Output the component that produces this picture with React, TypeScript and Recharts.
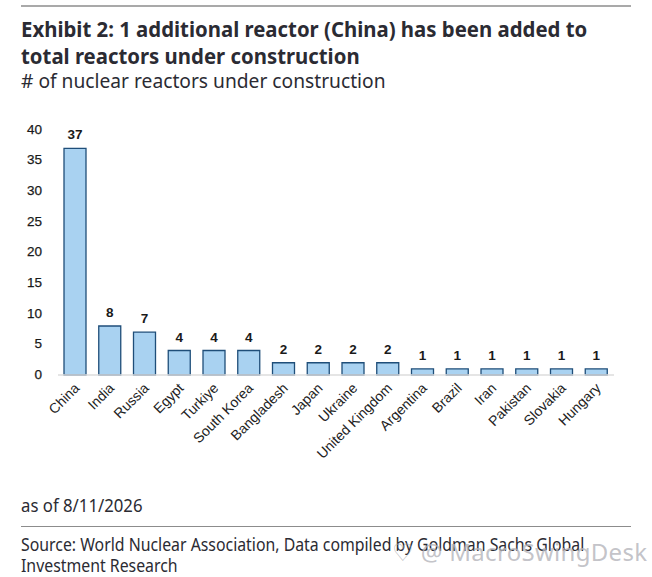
import React from 'react';
import { BarChart, Bar, XAxis, YAxis, LabelList } from 'recharts';

const countries = [
  'China', 'India', 'Russia', 'Egypt', 'Turkiye', 'South Korea', 'Bangladesh', 'Japan',
  'Ukraine', 'United Kingdom', 'Argentina', 'Brazil', 'Iran', 'Pakistan', 'Slovakia', 'Hungary',
];
const reactors = [37, 8, 7, 4, 4, 4, 2, 2, 2, 2, 1, 1, 1, 1, 1, 1];
const yTicks = [0, 5, 10, 15, 20, 25, 30, 35, 40];

const chartData = countries.map((country, i) => ({ country, reactors: reactors[i] }));

const textFont = '"Noto Sans", sans-serif';
const chartFont = '"Liberation Sans", Arial, sans-serif';

const CountryTick = ({ x, y, payload }: any) => (
  <text
    x={x + 5}
    y={y + 6}
    textAnchor="end"
    fontFamily={chartFont}
    fontSize={14}
    fill="#222"
    transform={`rotate(-45 ${x + 5} ${y + 6})`}
  >
    {payload.value}
  </text>
);

const line = (text: string, top: number, size: number, extra: React.CSSProperties = {}) => (
  <div
    style={{
      position: 'absolute',
      left: 21,
      top,
      fontFamily: textFont,
      fontSize: size,
      lineHeight: 1,
      color: '#2b2b33',
      whiteSpace: 'nowrap',
      transformOrigin: 'left top',
      ...extra,
    }}
  >
    {text}
  </div>
);

const rule = (top: number, height: number, color: string) => (
  <div style={{ position: 'absolute', left: 21, top, width: 610, height, background: color }} />
);

export default function App() {
  return (
    <div style={{ position: 'absolute', left: 0, top: 0, width: 652, height: 577, background: '#fff', overflow: 'hidden' }}>
      {rule(5, 2, '#a9a9a9')}
      {line('Exhibit 2: 1 additional reactor (China) has been added to', 17, 22, { fontWeight: 700, transform: 'scaleX(0.925)' })}
      {line('total reactors under construction', 44, 22, { fontWeight: 700, transform: 'scaleX(0.925)' })}
      {line('# of nuclear reactors under construction', 71, 20, { transform: 'scaleX(0.96)' })}

      <div style={{ position: 'absolute', left: 0, top: 0 }}>
        <BarChart
          width={652}
          height={577}
          data={chartData}
          barSize={22}
          margin={{ top: 130, right: 38, bottom: 102, left: 28 }}
        >
          <XAxis
            dataKey="country"
            interval={0}
            axisLine={{ stroke: '#dcdcdc', strokeWidth: 1.5 }}
            tickLine={false}
            tick={<CountryTick />}
            height={100}
          />
          <YAxis
            width={30}
            domain={[0, 40]}
            ticks={yTicks}
            axisLine={false}
            tickLine={false}
            tick={{ fontFamily: chartFont, fontSize: 13.5, fill: '#1a1a1a', stroke: '#1a1a1a', strokeWidth: 0.25, dy: -1 }}
            tickMargin={10}
          />
          <Bar dataKey="reactors" fill="#a9d2f1" stroke="#1f4e79" strokeWidth={1.3} isAnimationActive={false}>
            <LabelList
              dataKey="reactors"
              position="top"
              offset={9}
              style={{ fontFamily: chartFont, fontSize: 13.5, fontWeight: 700, fill: '#1a1a1a' }}
            />
          </Bar>
        </BarChart>
      </div>

      {line('as of 8/11/2026', 496, 18, { transform: 'scaleX(0.93)' })}
      {rule(526, 1, '#8c8c8c')}
      {line('Source: World Nuclear Association, Data compiled by Goldman Sachs Global', 536, 17.5, { transform: 'scaleX(0.905)' })}
      {line('Investment Research', 557, 17.5, { transform: 'scaleX(0.905)' })}
      <div
        style={{
          position: 'absolute',
          left: 392,
          top: 540,
          fontFamily: textFont,
          fontSize: 24,
          lineHeight: 1,
          letterSpacing: 0.3,
          color: 'rgba(180,180,186,0.8)',
          whiteSpace: 'nowrap',
        }}
      >
        ♡ @ MacroSwingDesk
      </div>
    </div>
  );
}
